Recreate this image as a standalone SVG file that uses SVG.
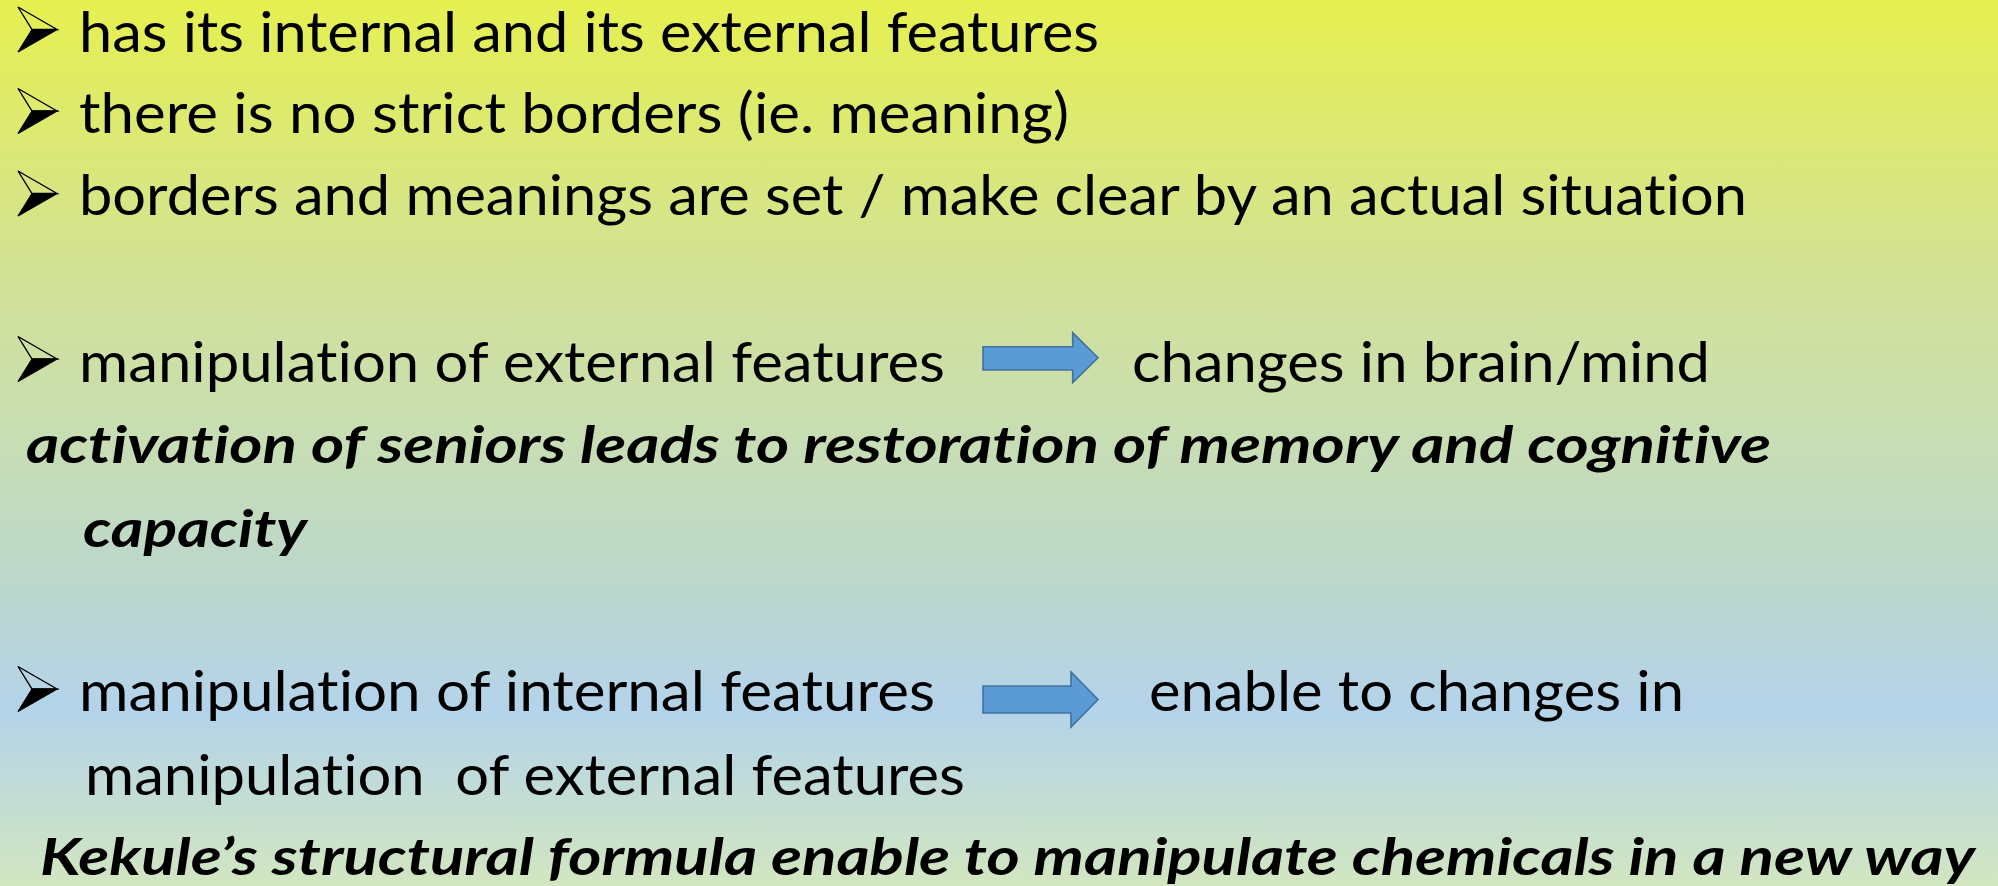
<svg xmlns="http://www.w3.org/2000/svg" xmlns:xlink="http://www.w3.org/1999/xlink" width="1998" height="886" viewBox="0 0 1998 886">
  <defs>
    <linearGradient id="bg" x1="0" y1="0" x2="0" y2="1">
      <stop offset="0" stop-color="#e6f050"/>
      <stop offset="0.3" stop-color="#d3e294"/>
      <stop offset="0.5" stop-color="#c7ddb4"/>
      <stop offset="0.66" stop-color="#bcd7cc"/>
      <stop offset="0.8" stop-color="#b4d3ea"/>
      <stop offset="1" stop-color="#d2e6c0"/>
    </linearGradient>
    <!-- arrowhead bullet: outlined upper half, solid lower half -->
    <g id="bullet">
      <polygon points="0,0 39,22.5 14,22.5" fill="#ffffff" fill-opacity="0" stroke="#000" stroke-width="1.4" stroke-linejoin="miter"/>
      <polygon points="14,22.5 39,22.5 0,45" fill="#000" stroke="#000" stroke-width="1.2" stroke-linejoin="miter"/>
    </g>
    <style>
      .t { font-family: Lato, "Open Sans", "Liberation Sans", sans-serif; font-size: 57px; fill: #000; white-space: pre; font-variant-ligatures: none; }
      .bi { font-family: Lato, "Open Sans", "Liberation Sans", sans-serif; font-size: 52px; font-weight: bold; font-style: italic; fill: #000; white-space: pre; font-variant-ligatures: none; }
      .arrow { fill: #5b9bd5; stroke: #41719c; stroke-width: 1.6; stroke-linejoin: miter; }
    </style>
  </defs>

  <rect x="0" y="0" width="1998" height="886" fill="url(#bg)"/>

  <g id="item-features">
    <use xlink:href="#bullet" href="#bullet" x="18" y="7"/>
    <text class="t" x="79" y="51.5" textLength="1020" lengthAdjust="spacingAndGlyphs">has its internal and its external features</text>
  </g>

  <g id="item-borders">
    <use xlink:href="#bullet" href="#bullet" x="18" y="88.5"/>
    <text class="t" x="79" y="133" textLength="990" lengthAdjust="spacingAndGlyphs">there is no strict borders (ie. meaning)</text>
  </g>

  <g id="item-situation">
    <use xlink:href="#bullet" href="#bullet" x="18" y="171"/>
    <text class="t" x="79" y="215" textLength="1668" lengthAdjust="spacingAndGlyphs">borders and meanings are set / make clear by an actual situation</text>
  </g>

  <g id="item-external">
    <use xlink:href="#bullet" href="#bullet" x="18" y="336.5"/>
    <text class="t" x="79" y="381.5" textLength="866" lengthAdjust="spacingAndGlyphs">manipulation of external features</text>
  </g>

  <g id="result-brain">
    <text class="t" x="1132" y="381.5" textLength="578" lengthAdjust="spacingAndGlyphs">changes in brain/mind</text>
  </g>

  <g id="example-seniors">
    <text class="bi" x="26" y="463" textLength="1745" lengthAdjust="spacingAndGlyphs">activation of seniors leads to restoration of memory and cognitive</text>
    <text class="bi" x="83" y="546.5" textLength="224" lengthAdjust="spacingAndGlyphs">capacity</text>
  </g>

  <g id="item-internal">
    <use xlink:href="#bullet" href="#bullet" x="18" y="666.5"/>
    <text class="t" x="79" y="711" textLength="856" lengthAdjust="spacingAndGlyphs">manipulation of internal features</text>
    <text class="t" x="85" y="795" textLength="880" lengthAdjust="spacingAndGlyphs">manipulation  of external features</text>
  </g>

  <g id="result-enable">
    <text class="t" x="1149" y="711" textLength="535" lengthAdjust="spacingAndGlyphs">enable to changes in</text>
  </g>

  <g id="example-kekule">
    <text class="bi" x="40" y="875" textLength="1935" lengthAdjust="spacingAndGlyphs">Kekule’s structural formula enable to manipulate chemicals in a new way</text>
  </g>

  <g id="connectors">
    <polygon class="arrow" points="983,346.7 1072.7,346.7 1072.7,332.7 1098,357.7 1072.7,382.7 1072.7,370 983,370"/>
    <polygon class="arrow" points="983,686 1071,686 1071,672 1098,699.5 1071,727 1071,713 983,713"/>
  </g>
</svg>
